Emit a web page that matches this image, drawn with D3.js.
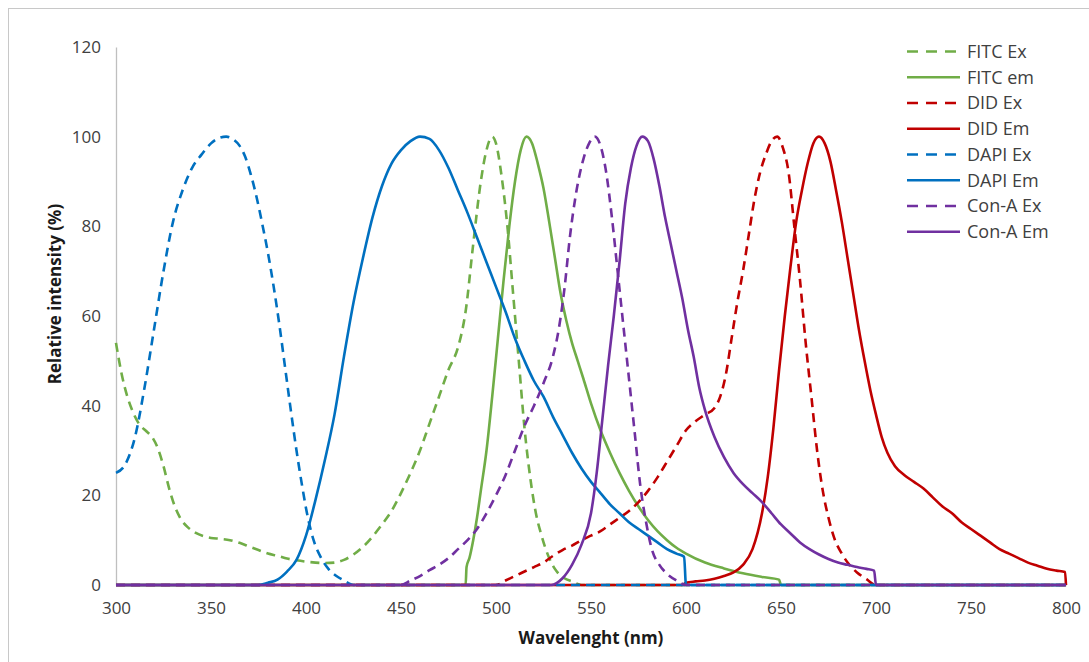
<!DOCTYPE html>
<html>
<head>
<meta charset="utf-8">
<script src="https://cdn.jsdelivr.net/npm/d3@7"></script>
<style>
  html, body { margin: 0; padding: 0; background: #fff; }
  svg { display: block; font-family: "Open Sans", "Liberation Sans", sans-serif; }
</style>
</head>
<body>
<svg id="chart" width="1089" height="662"></svg>
<script>
// ---------- DATA ----------
const seriesNames = ["FITC Ex", "FITC em", "DID Ex", "DID Em", "DAPI Ex", "DAPI Em", "Con-A Ex", "Con-A Em"];
const xTicks = [300, 350, 400, 450, 500, 550, 600, 650, 700, 750, 800];
const yTicks = [0, 20, 40, 60, 80, 100, 120];

const fitcEx = [[300,54],[303,47],[306,42],[309,38.5],[312,36],[316,34.3],[319,33],[322,30.5],[325,26.5],[328,21.5],[331,17.5],[334,14.8],[338,12.8],[342,11.6],[346,10.9],[350,10.5],[355,10.3],[360,10],[365,9.4],[370,8.6],[375,7.8],[380,7],[385,6.5],[390,5.9],[395,5.5],[400,5.2],[405,5],[410,4.9],[415,5],[420,5.6],[425,6.8],[430,8.5],[435,10.8],[440,13.5],[445,16.5],[450,20.5],[455,25],[460,30],[465,36],[470,42],[475,48],[480,53],[484,61],[488,76],[492,90],[495,97],[498,100],[500,98.5],[503,91],[506,80],[509,65],[512,50],[515,35],[518,24],[521,16],[524,11],[528,6],[532,3],[536,1.5],[540,0.8],[545,0],[800,0]];

const fitcEm = [[300,0],[484,0],[484.5,4],[486,6],[488,10],[490,15],[492,21],[495,30],[498,42],[501,55],[504,68],[507,80],[510,90],[513,97],[516,100],[519,98.5],[522,94],[525,88.5],[528,81],[531,73],[534,65],[537,59],[540,54],[543,50],[546,46],[550,40.5],[555,34.5],[560,29.5],[565,25],[570,21],[575,17.5],[580,14.5],[585,12],[590,10],[595,8.3],[600,7],[610,5],[620,3.7],[630,2.6],[640,1.8],[649,1.2],[650,0],[800,0]];

const didEx = [[300,0],[500,0],[505,1],[510,2],[515,3],[520,4],[525,5],[530,6.5],[535,7.8],[540,8.8],[545,10],[550,11],[555,12],[560,13.5],[565,15],[570,16.5],[575,18.5],[580,21],[585,24],[590,27.5],[595,31],[600,34.5],[605,36.5],[610,38],[615,39.5],[618,42],[621,47],[624,55],[627,63],[630,70],[633,78],[636,86],[639,92],[642,96],[645,99],[648,100],[651,97.5],[654,92],[657,80],[660,68],[663,54],[666,42],[669,30],[672,21],[675,15],[678,10.5],[682,7],[686,4.5],[690,2.8],[695,1.3],[700,0],[800,0]];

const didEm = [[300,0],[598,0],[600,0.5],[605,0.8],[610,1],[615,1.4],[620,2],[625,2.8],[630,4.5],[635,8],[640,16],[643,24],[646,35],[649,48],[652,60],[655,71],[658,81],[661,88],[664,94],[667,98.5],[670,100],[673,98.5],[676,94.5],[679,88],[682,81],[685,73],[688,65],[691,57],[694,50],[697,43.5],[700,38],[703,33],[706,29.5],[710,26.5],[715,24.5],[720,23],[725,21.5],[730,19.5],[735,17.5],[740,16],[745,14],[750,12.5],[755,11],[760,9.5],[765,8],[770,7],[775,6],[780,5],[785,4.3],[790,3.6],[795,3.2],[799.5,2.9],[800,0]];

const dapiEx = [[300,25],[305,27],[310,33],[315,44],[320,57],[325,70],[330,81],[335,88],[340,93],[345,96],[350,98.5],[355,99.8],[358,100],[362,99.3],[365,98],[368,95.5],[371,91.5],[374,86.5],[377,80.5],[380,74],[383,66.5],[386,58],[389,48.5],[392,39],[395,30],[398,22],[401,15],[404,10],[408,6],[412,3.5],[416,2],[420,1],[425,0],[800,0]];

const dapiEm = [[300,0],[375,0],[380,0.5],[385,1.2],[390,3],[395,5.6],[400,11],[405,19],[410,28],[415,38],[420,51],[425,63],[430,73],[435,82],[440,89],[445,94],[450,97],[455,99],[460,100],[465,99.5],[470,97],[475,93],[480,88],[485,83],[490,77.5],[495,72],[500,66.5],[505,61],[510,55],[515,50],[520,45.5],[525,42],[530,37.5],[535,33.5],[540,29.5],[545,26],[550,23],[555,20.5],[560,18],[565,16],[570,14],[575,12.5],[580,11],[585,9.5],[590,8],[595,7],[599,6.3],[600,0],[800,0]];

const conAEx = [[300,0],[450,0],[455,1],[460,2],[465,3.3],[470,4.5],[475,6],[480,8],[485,10],[490,12.5],[495,16],[500,20],[505,24.5],[510,30],[515,35.5],[520,40],[525,45],[530,51],[533,57],[536,66],[539,78],[542,87],[546,95],[549,98.5],[552,100],[555,98],[558,92],[561,82],[564,70],[567,58],[570,46],[573,34],[576,22],[579,14],[582,8],[586,4.5],[590,2.5],[595,1],[600,0],[800,0]];

const conAEm = [[300,0],[529,0],[535,1.5],[540,4.5],[545,9],[550,16],[553,25],[556,37],[559,49],[562,60],[565,72],[568,85],[571,93],[574,98],[577,100],[580,99],[583,95],[586,89],[589,82],[592,76],[595,70],[598,64],[601,57],[604,51],[607,44],[610,39],[615,33],[620,28.5],[625,25],[630,22.5],[635,20.5],[640,18.5],[645,16],[650,13.5],[655,11.5],[660,9.5],[665,8],[670,6.8],[675,5.8],[680,5],[685,4.5],[690,4],[695,3.6],[699,3.2],[700,0],[800,0]];

const seriesData = [fitcEx, fitcEm, didEx, didEm, dapiEx, dapiEm, conAEx, conAEm];

// ---------- STYLE ----------
const seriesColors = ["#70AD47", "#70AD47", "#C00000", "#C00000", "#0070C0", "#0070C0", "#7030A0", "#7030A0"];
const seriesDashed = [true, false, true, false, true, false, true, false];

// ---------- DRAW ----------
const svg = d3.select("#chart");
const W = 1089, H = 662;

// outer frame
svg.append("rect").attr("x", 8.5).attr("y", 8.5).attr("width", W + 10).attr("height", H + 10)
  .attr("fill", "none").attr("stroke", "#c8c8c8").attr("stroke-width", 1);

const x = d3.scaleLinear().domain([300, 800]).range([116, 1066]);
const y = d3.scaleLinear().domain([0, 120]).range([585, 47]);

// axes
const xAxis = svg.append("g").attr("transform", `translate(0,${y(0)})`)
  .call(d3.axisBottom(x).tickValues(xTicks).tickSize(0).tickPadding(17));
const yAxis = svg.append("g").attr("transform", `translate(${x(300)},0)`)
  .call(d3.axisLeft(y).tickValues(yTicks).tickSize(0).tickPadding(15));

[xAxis, yAxis].forEach(g => {
  g.select(".domain").attr("stroke", "#bfbfbf").attr("stroke-width", 1.3);
  g.selectAll("text").attr("fill", "#404040").style("font-size", "17px")
    .style("font-family", "'Open Sans', sans-serif");
});
xAxis.selectAll("text").attr("dy", "0.71em");

// axis titles
svg.append("text").attr("x", x(550)).attr("y", 644)
  .attr("text-anchor", "middle").attr("font-weight", "bold").attr("font-size", 17)
  .attr("fill", "#1a1a1a").text("Wavelenght (nm)");
svg.append("text").attr("transform", `translate(61,${294}) rotate(-90)`)
  .attr("text-anchor", "middle").attr("font-weight", "bold").attr("font-size", 17)
  .attr("fill", "#1a1a1a").text("Relative intensity (%)");

// lines
const line = d3.line().x(d => x(d[0])).y(d => y(d[1])).curve(d3.curveMonotoneX);
const plot = svg.append("g");
seriesData.forEach((data, i) => {
  plot.append("path").datum(data)
    .attr("d", line)
    .attr("fill", "none")
    .attr("stroke", seriesColors[i])
    .attr("stroke-width", 2.6)
    .attr("stroke-linejoin", "round")
    .attr("stroke-dasharray", seriesDashed[i] ? "9,6" : null);
});

// legend
const legend = svg.append("g");
seriesNames.forEach((name, i) => {
  const ly = 51.5 + i * 25.75;
  legend.append("line").attr("x1", 907).attr("x2", 960).attr("y1", ly).attr("y2", ly)
    .attr("stroke", seriesColors[i]).attr("stroke-width", 2.6)
    .attr("stroke-dasharray", seriesDashed[i] ? "11,8" : null);
  legend.append("text").attr("x", 967).attr("y", ly).attr("dy", "0.35em")
    .attr("font-size", 18).attr("fill", "#404040").text(name);
});
</script>
</body>
</html>
